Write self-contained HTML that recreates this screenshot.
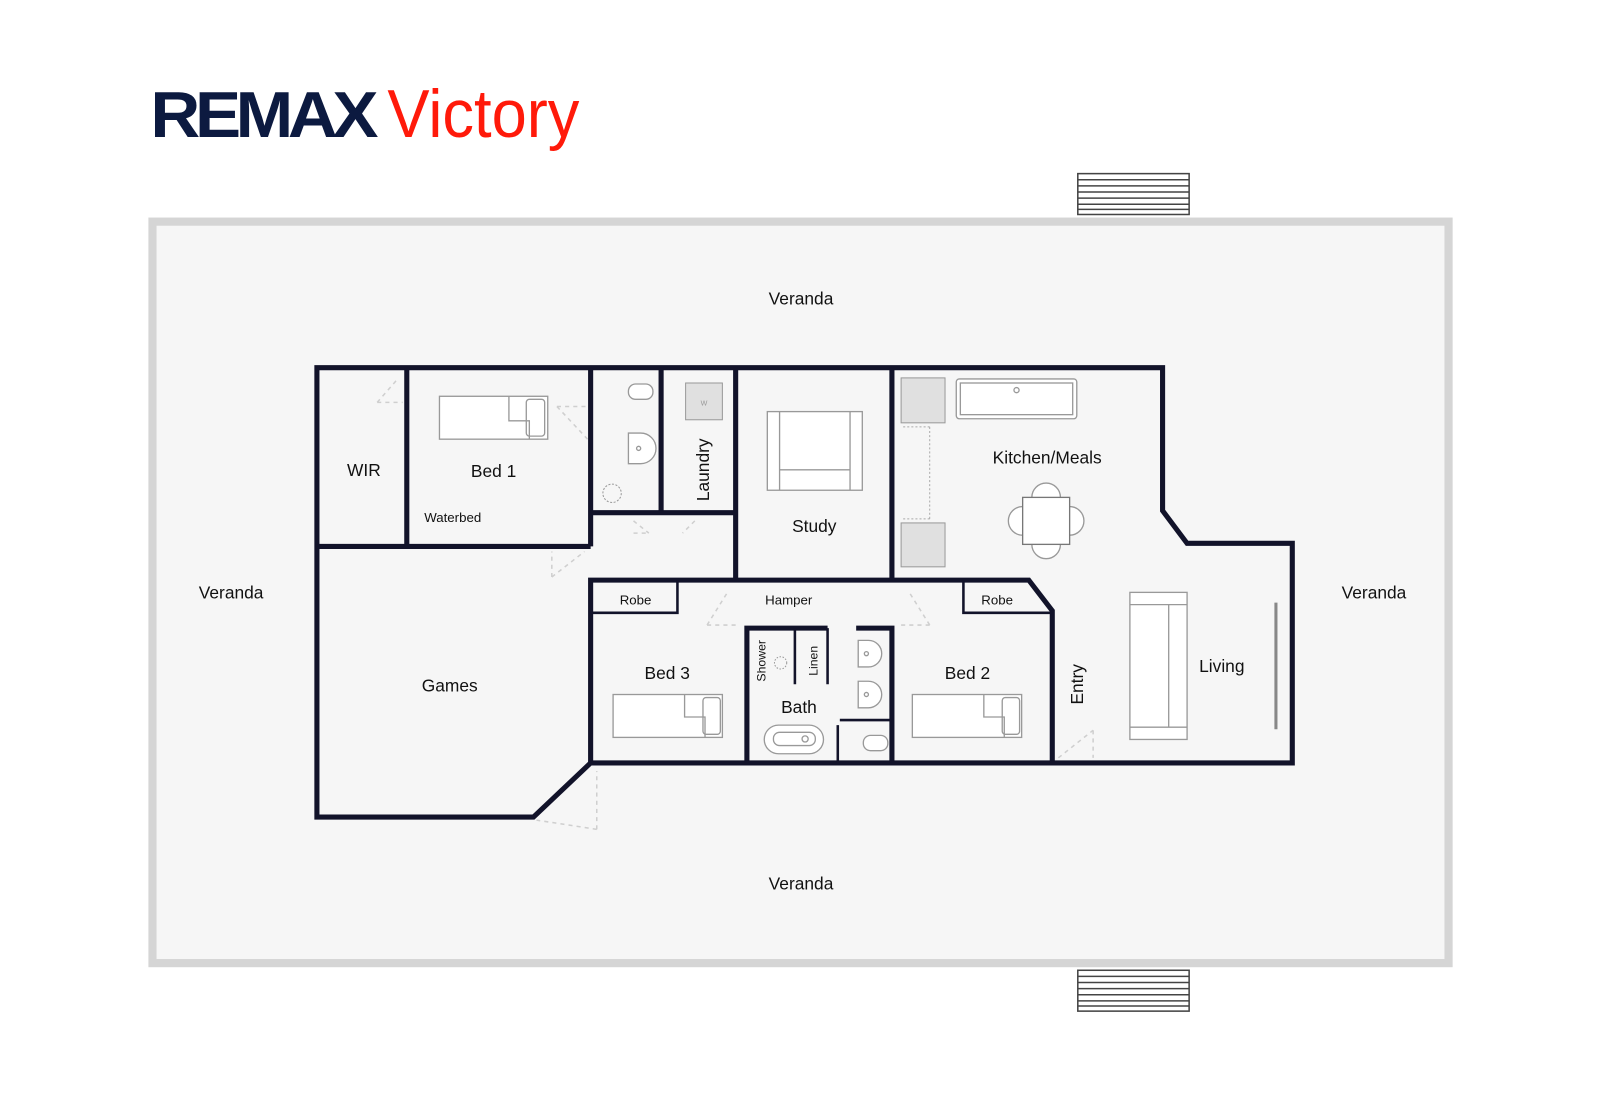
<!DOCTYPE html>
<html><head><meta charset="utf-8"><style>
html,body{margin:0;padding:0;background:#fff;width:1600px;height:1101px;overflow:hidden}
svg{display:block}
text{font-family:"Liberation Sans",sans-serif;fill:#111}
</style></head><body>
<svg width="1600" height="1101" viewBox="0 0 1566 1078" xmlns="http://www.w3.org/2000/svg">
<rect x="0" y="0" width="1566" height="1078" fill="#fff"/>
<!-- logo -->
<text x="147" y="134" font-size="64" font-weight="bold" fill="#0c1a40" style="fill:#0c1a40;letter-spacing:-5px" textLength="218" lengthAdjust="spacingAndGlyphs">REMAX</text>
<text x="379" y="134" font-size="66" style="fill:#ff1a0a" textLength="188" lengthAdjust="spacingAndGlyphs">Victory</text>
<!-- veranda -->
<rect x="149" y="217" width="1269" height="726" fill="#f6f6f6" stroke="#d5d5d5" stroke-width="8"/>
<!-- steps -->
<g fill="#fff" stroke="#444" stroke-width="1.5">
<rect x="1055" y="170" width="109" height="40"/>
<line x1="1055" y1="176" x2="1164" y2="176"/><line x1="1055" y1="182" x2="1164" y2="182"/><line x1="1055" y1="188" x2="1164" y2="188"/><line x1="1055" y1="194" x2="1164" y2="194"/><line x1="1055" y1="200" x2="1164" y2="200"/><line x1="1055" y1="205" x2="1164" y2="205"/>
<rect x="1055" y="950" width="109" height="40"/>
<line x1="1055" y1="956" x2="1164" y2="956"/><line x1="1055" y1="962" x2="1164" y2="962"/><line x1="1055" y1="968" x2="1164" y2="968"/><line x1="1055" y1="974" x2="1164" y2="974"/><line x1="1055" y1="980" x2="1164" y2="980"/><line x1="1055" y1="985" x2="1164" y2="985"/>
</g>
<!-- door swings -->
<g fill="none" stroke="#cfcfcf" stroke-width="1.5" stroke-dasharray="4,4">
<path d="M369 394 L394 394 M369 394 L390 370"/>
<path d="M545 398 L575 398 M545 398 L575 430"/>
<path d="M540 565 L540 540 M540 565 L572 540"/>
<path d="M620 522 L635 522 M620 510 L635 522 M680 510 L668 522"/>
<path d="M692 612 L720 612 M692 612 L712 580 M910 612 L880 612 M910 612 L890 580"/>
<path d="M584 812 L584 755 M584 812 L525 803"/>
<path d="M1036 742 L1070 715 M1070 715 L1070 742"/>
</g>
<!-- walls -->
<g fill="none" stroke="#12132a" stroke-width="5" stroke-linejoin="miter">
<path d="M310 360 L1138 360 L1138 500 L1162 532 L1265 532 L1265 747 L578 747 L522 800 L310 800 Z"/>
<path d="M398 360 V535 M310 535 H578 M578 360 V535 M647 360 V502 M578 502 H720 M720 360 V568 M873 360 V568 M578 747 V568 H1007 L1030 598 V747"/>
<path d="M731 747 V615 H810 M838 615 H873 V747"/>
</g>
<g fill="none" stroke="#12132a" stroke-width="2.5">
<path d="M578 600 H663 V568 M943 568 V600 H1030"/>
<path d="M778 615 V670 M810 615 V670 M820 747 V710 M822 705 H873"/>
</g>
<!-- furniture -->
<g fill="#fff" stroke="#999" stroke-width="1.3">
<rect x="430" y="388" width="106" height="42"/><rect x="515" y="391" width="18" height="36" rx="3"/><path d="M498 388 L498 412 L518 412 L518 430" fill="none"/>
<rect x="600" y="680" width="107" height="42"/><rect x="688" y="683" width="17" height="36" rx="3"/><path d="M670 680 L670 702 L690 702 L690 722" fill="none"/>
<rect x="893" y="680" width="107" height="42"/><rect x="981" y="683" width="17" height="36" rx="3"/><path d="M963 680 L963 702 L983 702 L983 722" fill="none"/>
<rect x="751" y="403" width="93" height="77"/><path d="M763 403 V480 M832 403 V480 M763 460 H832" fill="none"/>
<rect x="936" y="371" width="118" height="39" rx="3"/><rect x="940" y="375" width="110" height="31"/>
<circle cx="995" cy="382" r="2.5" fill="none"/>
<circle cx="1024" cy="487" r="14"/><circle cx="1024" cy="533" r="14"/><circle cx="1001" cy="510" r="14"/><circle cx="1047" cy="510" r="14"/>
<rect x="1001" y="487" width="46" height="46" stroke="#777"/>
<rect x="1106" y="580" width="56" height="144"/><path d="M1106 592 H1162 M1106 712 H1162 M1144 592 V712" fill="none"/>
<rect x="615" y="376" width="24" height="15" rx="7"/>
<path d="M615 424 h12 a15 15 0 0 1 0 30 h-12 z"/><circle cx="625" cy="439" r="2" fill="none"/>
<path d="M840 627 h10 a13 13 0 0 1 0 26 h-10 z"/><circle cx="848" cy="640" r="2" fill="none"/>
<path d="M840 667 h10 a13 13 0 0 1 0 26 h-10 z"/><circle cx="848" cy="680" r="2" fill="none"/>
<rect x="845" y="720" width="24" height="15" rx="7"/>
<rect x="748" y="710" width="58" height="28" rx="14"/><rect x="757" y="717" width="41" height="13" rx="6"/>
<circle cx="788" cy="723.5" r="3" fill="none"/>
</g>
<g fill="#e0e0e0" stroke="#999" stroke-width="1">
<rect x="671" y="375" width="36" height="36"/>
<rect x="882" y="370" width="43" height="44"/>
<rect x="882" y="512" width="43" height="43"/>
</g>
<text x="689" y="397" font-size="7" text-anchor="middle" style="fill:#999">W</text>
<path d="M910 418 V508 M884 418 H910 M884 508 H910" stroke="#aaa" stroke-dasharray="2,2" fill="none"/>
<circle cx="599" cy="483" r="9" fill="none" stroke="#999" stroke-dasharray="2,1.5"/>
<circle cx="764" cy="649" r="6" fill="none" stroke="#999" stroke-dasharray="1.5,1.5"/>
<!-- labels -->
<g font-size="17" text-anchor="middle">
<text x="784" y="298">Veranda</text>
<text x="784" y="871">Veranda</text>
<text x="226" y="586">Veranda</text>
<text x="1345" y="586">Veranda</text>
<text x="356" y="466">WIR</text>
<text x="483" y="467">Bed 1</text>
<text x="797" y="521">Study</text>
<text x="1025" y="454">Kitchen/Meals</text>
<text x="440" y="677">Games</text>
<text x="653" y="665">Bed 3</text>
<text x="947" y="665">Bed 2</text>
<text x="782" y="698">Bath</text>
<text x="1196" y="658">Living</text>
</g>
<g font-size="13" text-anchor="middle">
<text x="443" y="511">Waterbed</text>
<text x="622" y="592">Robe</text>
<text x="976" y="592">Robe</text>
<text x="772" y="592">Hamper</text>
</g>
<text transform="translate(694 460) rotate(-90)" font-size="17" text-anchor="middle">Laundry</text>
<text transform="translate(1060 670) rotate(-90)" font-size="17" text-anchor="middle">Entry</text>
<text transform="translate(749 647) rotate(-90)" font-size="12" text-anchor="middle">Shower</text>
<text transform="translate(800 647) rotate(-90)" font-size="12" text-anchor="middle">Linen</text>
<line x1="1249" y1="590" x2="1249" y2="714" stroke="#888" stroke-width="3"/>
</svg>
</body></html>
